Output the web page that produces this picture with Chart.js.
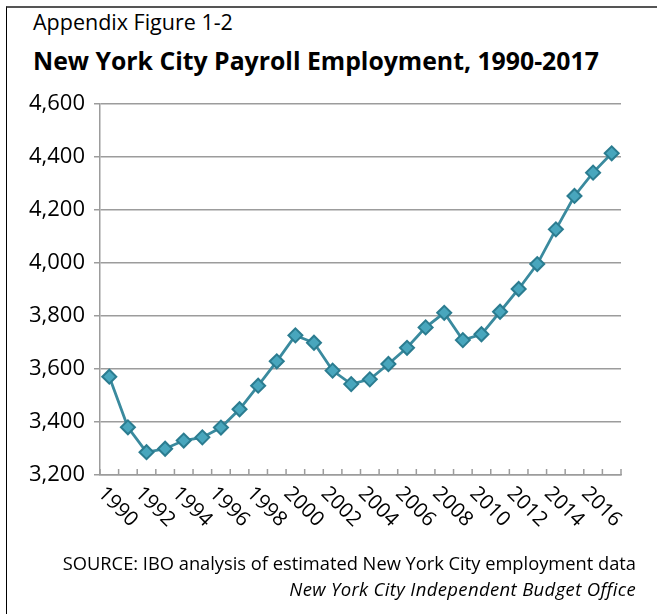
<!DOCTYPE html>
<html>
<head>
<meta charset="utf-8">
<style>
  * { margin: 0; padding: 0; box-sizing: border-box; }
  body { width: 657px; height: 614px; background: #fff; position: relative; overflow: hidden;
         font-family: "Open Sans", sans-serif; color: #000; }
  .frame { position: absolute; left: 6px; top: 6px; right: 0; bottom: 0;
           border-top: 2px solid #555; border-left: 1px solid #000; }
  .txt { position: absolute; white-space: nowrap; line-height: 1; }
  #kicker { left: 33px; top: 11px; font-size: 21.5px; }
  #title { left: 33px; top: 48px; font-size: 24.8px; font-weight: 700; }
  #source { right: 21px; top: 554px; font-size: 18.3px; }
  #credit { right: 21px; top: 580px; font-size: 18.5px; font-style: italic; letter-spacing: 0.35px; }
  canvas { position: absolute; left: 0; top: 0; }
</style>
</head>
<body>
<div class="frame"></div>
<div class="txt" id="kicker">Appendix Figure 1-2</div>
<div class="txt" id="title">New York City Payroll Employment, 1990-2017</div>
<canvas id="chart" width="657" height="614"></canvas>
<div class="txt" id="source">SOURCE: IBO analysis of estimated New York City employment data</div>
<div class="txt" id="credit">New York City Independent Budget Office</div>
<script src="https://cdn.jsdelivr.net/npm/chart.js@4"></script>
<script>
// Payroll jobs, thousands
const years = [
  '1990', '1991', '1992', '1993', '1994', '1995', '1996', '1997', '1998', '1999',
  '2000', '2001', '2002', '2003', '2004', '2005', '2006', '2007', '2008', '2009',
  '2010', '2011', '2012', '2013', '2014', '2015', '2016', '2017'
];
const employment = [
  3571, 3380, 3286, 3299, 3330, 3342, 3379, 3448, 3537, 3629,
  3727, 3699, 3594, 3543, 3561, 3619, 3680, 3757, 3812, 3709,
  3731, 3816, 3902, 3996, 4127, 4253, 4341, 4414
];
const yMin = 3200;
const yMax = 4600;
const yStep = 200;

const gridColor = '#9c9c9c';
const fontFamily = '"Open Sans", sans-serif';

// Excel-style x axis: inward tick marks between years, labels slanted down-right
const yearAxis = {
  id: 'yearAxis',
  afterDraw(chart) {
    const x = chart.scales.x;
    const ctx = chart.ctx;
    ctx.save();
    ctx.strokeStyle = gridColor;
    ctx.lineWidth = 1.5;
    ctx.beginPath();
    for (let i = 0; i <= years.length; i++) {
      const px = x.getPixelForValue(i - 0.5);
      ctx.moveTo(px, x.top);
      ctx.lineTo(px, x.top - 6);
    }
    ctx.stroke();

    ctx.fillStyle = '#000';
    ctx.font = '20.5px ' + fontFamily;
    ctx.textAlign = 'left';
    ctx.textBaseline = 'top';
    years.forEach((yr, i) => {
      if (i % 2) return;
      ctx.save();
      ctx.translate(x.getPixelForValue(i) - 1, x.top + 8);
      ctx.rotate(Math.PI / 4);
      ctx.fillText(yr, 0, 0);
      ctx.restore();
    });
    ctx.restore();
  }
};

new Chart(document.getElementById('chart'), {
  type: 'line',
  data: {
    labels: years,
    datasets: [{
      data: employment,
      borderColor: '#3a8a9e',
      borderWidth: 2.8,
      pointStyle: 'rectRot',
      pointRadius: 7,
      pointBorderWidth: 2,
      pointBorderColor: '#2b7c90',
      pointBackgroundColor: '#48a6bd',
      tension: 0
    }]
  },
  options: {
    responsive: false,
    animation: false,
    layout: { padding: { top: 104, right: 36, left: 0, bottom: 0 } },
    plugins: { legend: { display: false }, tooltip: { enabled: false } },
    scales: {
      x: {
        offset: true,
        grid: { display: false },
        border: { display: true, color: gridColor, width: 1.5 },
        ticks: { display: false },
        afterFit(scale) { scale.height = 139; }
      },
      y: {
        min: yMin,
        max: yMax,
        ticks: {
          stepSize: yStep,
          color: '#000',
          padding: 9,
          font: { family: fontFamily, size: 22 },
          callback: v => v.toLocaleString('en-US')
        },
        grid: { color: gridColor, lineWidth: 1.5, tickLength: 6 },
        border: { color: gridColor, width: 1.5 },
        afterFit(scale) { scale.width = 100; }
      }
    }
  },
  plugins: [yearAxis]
});
</script>
</body>
</html>
